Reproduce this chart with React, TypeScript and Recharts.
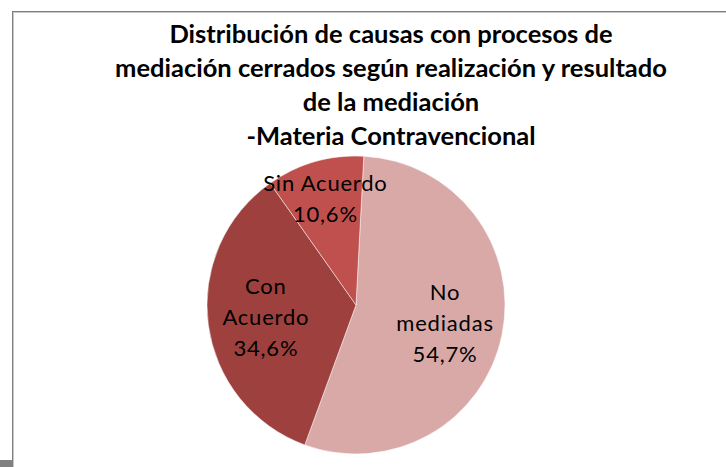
import React from 'react';
import { PieChart, Pie, Cell } from 'recharts';

// datos
const categories = ['No mediadas', 'Con Acuerdo', 'Sin Acuerdo'];
const labelLines = [['No', 'mediadas'], ['Con', 'Acuerdo'], ['Sin Acuerdo']];
const shares = [54.7, 34.6, 10.6];
const colors = ['#D9A9A8', '#9D403E', '#C0504D'];

const titleLines = [
  'Distribución de causas con procesos de',
  'mediación cerrados según realización y resultado',
  'de la mediación',
  '-Materia Contravencional',
];

const pieData = categories.map((name, i) => ({ name, value: shares[i] }));

const RAD = Math.PI / 180;

const renderLabel = (props: any) => {
  const { cx, cy, midAngle, outerRadius, percent, index, value } = props;
  const frac = percent < 0.15 ? 0.74 : 0.61;
  const r = outerRadius * frac;
  const x = cx + r * Math.cos(-midAngle * RAD);
  const y = cy + r * Math.sin(-midAngle * RAD);
  const lines = [...labelLines[index], `${String(value).replace('.', ',')}%`];
  const lh = 31;
  const top = y - ((lines.length - 1) * lh) / 2;
  return (
    <text
      x={x}
      y={top}
      textAnchor="middle"
      fill="#000"
      fontFamily="Lato, 'Open Sans', sans-serif"
      fontSize={22}
      letterSpacing={0.8}
    >
      {lines.map((l, i) => (
        <tspan key={i} x={x} y={top + i * lh} dy="0.35em">
          {l}
        </tspan>
      ))}
    </text>
  );
};

export default function App() {
  return (
    <div style={{ position: 'absolute', left: 0, top: 0, width: 726, height: 467, overflow: 'hidden', background: '#fff' }}>
      {/* marco del gráfico */}
      <div style={{ position: 'absolute', left: 12, top: 11, width: 760, height: 480, borderLeft: '1px solid #7f7f7f', borderTop: '1px solid #7f7f7f', boxShadow: 'inset 1px 1px 0 #c8c8c8' }} />
      <div style={{ position: 'absolute', left: 0, top: 460, width: 12, height: 7, background: '#808080' }} />

      <svg style={{ position: 'absolute', left: 0, top: 0 }} width={726} height={160}>
        {titleLines.map((t, i) => (
          <text
            key={i}
            x={391}
            y={43 + i * 34}
            textAnchor="middle"
            fontFamily="Lato, 'Open Sans', sans-serif"
            fontWeight="bold"
            fontSize={25.5}
            fill="#000"
          >
            {t}
          </text>
        ))}
      </svg>

      <div style={{ position: 'absolute', left: 13, top: 11 }}>
        <PieChart width={713} height={456} margin={{ top: 0, right: 0, bottom: 0, left: 0 }}>
          <Pie
            data={pieData}
            dataKey="value"
            nameKey="name"
            cx={343}
            cy={294}
            outerRadius={149}
            startAngle={87}
            endAngle={-273}
            stroke="#ffffff"
            strokeWidth={0.5}
            label={renderLabel}
            labelLine={false}
            isAnimationActive={false}
          >
            {pieData.map((_, i) => (
              <Cell key={`cell-${i}`} fill={colors[i]} />
            ))}
          </Pie>
        </PieChart>
      </div>
    </div>
  );
}
